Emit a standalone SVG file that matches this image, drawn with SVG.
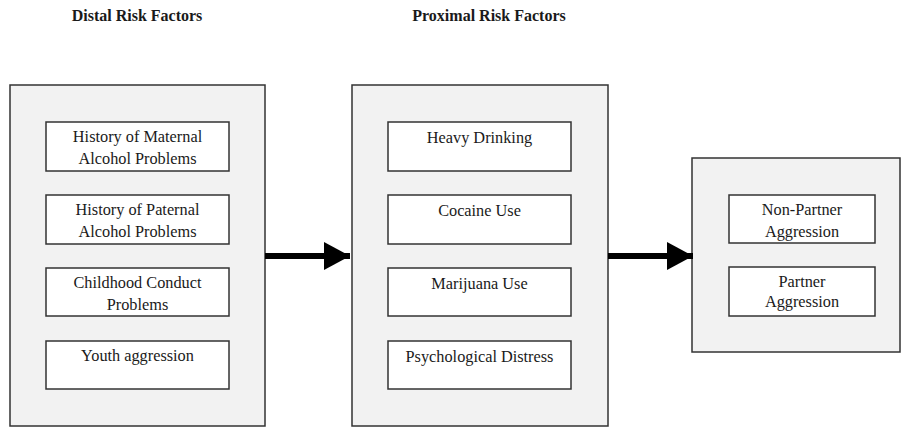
<svg xmlns="http://www.w3.org/2000/svg" width="902" height="428" viewBox="0 0 902 428">
<style>
.panel{fill:#f2f2f2;stroke:#333;stroke-width:1.5}
.box{fill:#fff;stroke:#333;stroke-width:1.5}
.t{font-family:"Liberation Serif","Times New Roman",serif;font-size:16.3px;fill:#1a1a1a;text-anchor:middle}
.h{font-family:"Liberation Serif","Times New Roman",serif;font-size:16px;font-weight:bold;fill:#1a1a1a;text-anchor:middle}
</style>
<defs>
<marker id="ah" markerWidth="26" markerHeight="28" refX="26" refY="14" orient="auto" markerUnits="userSpaceOnUse">
<path d="M0,0 L26,14 L0,28 Z" fill="#000"/>
</marker>
</defs>
<rect width="902" height="428" fill="#fff"/>
<text class="h" x="137" y="21">Distal Risk Factors</text>
<text class="h" x="489" y="21">Proximal Risk Factors</text>
<g id="distal">
<rect class="panel" x="10" y="85" width="255" height="341"/>
<g id="maternal"><rect class="box" x="46" y="122" width="183" height="49"/><text class="t" x="137.5" y="142">History of Maternal</text><text class="t" x="137.5" y="164">Alcohol Problems</text></g>
<g id="paternal"><rect class="box" x="46" y="195" width="183" height="49"/><text class="t" x="137.5" y="215">History of Paternal</text><text class="t" x="137.5" y="237">Alcohol Problems</text></g>
<g id="conduct"><rect class="box" x="46" y="268" width="183" height="48"/><text class="t" x="137.5" y="288">Childhood Conduct</text><text class="t" x="137.5" y="310">Problems</text></g>
<g id="youth"><rect class="box" x="46" y="341" width="183" height="48"/><text class="t" x="137.5" y="361">Youth aggression</text></g>
</g>
<g id="proximal">
<rect class="panel" x="352" y="85" width="256" height="341"/>
<g id="heavy"><rect class="box" x="388" y="122" width="183" height="49"/><text class="t" x="479.5" y="143">Heavy Drinking</text></g>
<g id="cocaine"><rect class="box" x="388" y="195" width="183" height="49"/><text class="t" x="479.5" y="216">Cocaine Use</text></g>
<g id="marijuana"><rect class="box" x="388" y="268" width="183" height="48"/><text class="t" x="479.5" y="289">Marijuana Use</text></g>
<g id="distress"><rect class="box" x="388" y="341" width="183" height="48"/><text class="t" x="479.5" y="362">Psychological Distress</text></g>
</g>
<g id="outcomes">
<rect class="panel" x="692" y="158" width="208" height="194"/>
<g id="nonpartner"><rect class="box" x="729" y="195" width="146" height="48"/><text class="t" x="802" y="215">Non-Partner</text><text class="t" x="802" y="237">Aggression</text></g>
<g id="partner"><rect class="box" x="729" y="267" width="146" height="49"/><text class="t" x="802" y="287">Partner</text><text class="t" x="802" y="307">Aggression</text></g>
</g>
<g id="connectors" stroke="#000" stroke-width="6" fill="none">
<line x1="265" y1="256" x2="350" y2="256" marker-end="url(#ah)"/>
<line x1="608" y1="256" x2="693" y2="256" marker-end="url(#ah)"/>
</g>
</svg>
